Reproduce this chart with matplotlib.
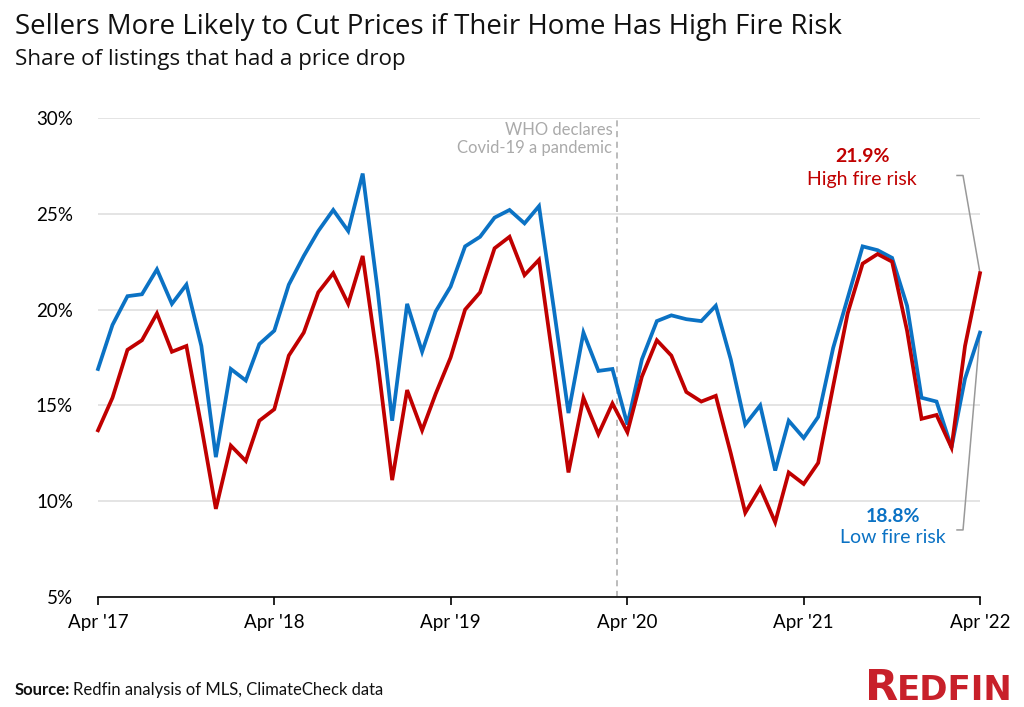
import pandas as pd
import matplotlib
matplotlib.use('Agg')
import matplotlib.pyplot as plt
import matplotlib.dates as mdates

plt.rcParams['font.family'] = ['Lato', 'DejaVu Sans']

# Share of listings with a price drop, monthly Apr 2017 - Apr 2022
months = pd.date_range('2017-04-01', '2022-04-01', freq='MS')
high_risk = [13.7, 15.4, 17.9, 18.4, 19.8, 17.8, 18.1, 13.9, 9.6, 12.9, 12.1, 14.2,
             14.8, 17.6, 18.8, 20.9, 21.9, 20.3, 22.8, 17.3, 11.1, 15.8, 13.7, 15.6,
             17.5, 20.0, 20.9, 23.2, 23.8, 21.8, 22.6, 17.0, 11.5, 15.4, 13.5, 15.1,
             13.6, 16.5, 18.4, 17.6, 15.7, 15.2, 15.5, 12.5, 9.4, 10.7, 8.9, 11.5,
             10.9, 12.0, 16.0, 19.8, 22.4, 22.9, 22.5, 18.9, 14.3, 14.5, 12.8, 18.1,
             21.9]
low_risk = [16.9, 19.2, 20.7, 20.8, 22.1, 20.3, 21.3, 18.1, 12.3, 16.9, 16.3, 18.2,
            18.9, 21.3, 22.8, 24.1, 25.2, 24.1, 27.1, 21.0, 14.2, 20.3, 17.8, 19.9,
            21.2, 23.3, 23.8, 24.8, 25.2, 24.5, 25.4, 20.0, 14.6, 18.8, 16.8, 16.9,
            14.0, 17.4, 19.4, 19.7, 19.5, 19.4, 20.2, 17.4, 14.0, 15.0, 11.6, 14.2,
            13.3, 14.4, 18.0, 20.6, 23.3, 23.1, 22.7, 20.2, 15.4, 15.2, 12.8, 16.4,
            18.8]
tick_dates = pd.date_range('2017-04-01', '2022-04-01', freq='12MS')
tick_labels = ["Apr '17", "Apr '18", "Apr '19", "Apr '20", "Apr '21", "Apr '22"]
y_ticks = [5, 10, 15, 20, 25, 30]
pandemic_date = pd.Timestamp('2020-03-11')

red = '#c00000'
blue = '#0b72c4'
gray = '#999999'

fig = plt.figure(figsize=(10.24, 7.07), dpi=100)
ax = fig.add_axes([98 / 1024, 1 - 597 / 707, 882 / 1024, 479 / 707])

ax.set_ylim(5, 30)
ax.set_xlim(months[0], months[-1])
ax.set_yticks(y_ticks)
ax.set_yticklabels([f'{v}%' for v in y_ticks])
ax.set_xticks(tick_dates)
ax.set_xticklabels(tick_labels)
ax.grid(axis='y', color='#dcdcdc', lw=1.1, zorder=0)
for s in ['top', 'right', 'left']:
    ax.spines[s].set_visible(False)
ax.spines['bottom'].set_color('black')
ax.spines['bottom'].set_linewidth(1.2)
ax.tick_params(axis='y', length=0, pad=18, labelsize=13.5)
ax.tick_params(axis='x', length=6, width=1.2, pad=6, labelsize=13.5)

# pandemic marker
ax.axvline(pandemic_date, color='#aaaaaa', lw=1.1, ls=(0, (4, 3)), zorder=1)
ax.text(pandemic_date - pd.Timedelta(days=10), 28.9, 'WHO declares\nCovid-19 a pandemic',
        ha='right', va='center', fontsize=12, color='#aaaaaa', linespacing=1.2)

ax.plot(months, low_risk, color=blue, lw=2.7, clip_on=False, zorder=3,
        solid_joinstyle='miter')
ax.plot(months, high_risk, color=red, lw=2.7, clip_on=False, zorder=4,
        solid_joinstyle='miter')

# end labels with brackets
end = months[-1]
x_end = mdates.date2num(end)
px = 30.4 / 14.7  # days per pixel
x_kink = x_end - 17 * px
x_tip = x_end - 23 * px
ax.plot([x_end, x_kink, x_tip], [high_risk[-1], 27.0, 27.0], color=gray, lw=1.1,
        clip_on=False, zorder=2)
ax.plot([x_end, x_kink, x_tip], [low_risk[-1], 8.5, 8.5], color=gray, lw=1.1,
        clip_on=False, zorder=2)

ax.text(x_end - 118 * px, 28.0, f'{high_risk[-1]:.1f}%', ha='center', va='center',
        fontsize=14, fontweight='bold', color=red)
ax.text(x_end - 118 * px, 26.8, 'High fire risk', ha='center', va='center',
        fontsize=14, color=red)
ax.text(x_end - 87 * px, 9.2, f'{low_risk[-1]:.1f}%', ha='center', va='center',
        fontsize=14, fontweight='bold', color=blue)
ax.text(x_end - 87 * px, 8.1, 'Low fire risk', ha='center', va='center',
        fontsize=14, color=blue)

# titles
fig.text(15 / 1024, 1 - 27 / 707, 'Sellers More Likely to Cut Prices if Their Home Has High Fire Risk',
         ha='left', va='center', fontsize=19.9, color='#111111', family='Open Sans')
fig.text(15 / 1024, 1 - 59 / 707, 'Share of listings that had a price drop',
         ha='left', va='center', fontsize=16.1, color='#111111', family='Open Sans')

# source line
src = fig.text(15 / 1024, 1 - 690 / 707, 'Source:', ha='left', va='center',
               fontsize=12, fontweight='bold', color='#111111')
fig.canvas.draw()
bb = src.get_window_extent()
fig.text((bb.x1 + 3) / 1024, 1 - 690 / 707, 'Redfin analysis of MLS, ClimateCheck data',
         ha='left', va='center', fontsize=12, color='#111111')

# logo
logo_red = '#c8202a'
r = fig.text(865 / 1024, 1 - 700 / 707, 'R', ha='left', va='baseline',
             fontsize=31, fontweight='bold', color=logo_red, family='DejaVu Sans')
fig.canvas.draw()
rb = r.get_window_extent()
fig.text((rb.x1 - 1) / 1024, 1 - 700 / 707, 'EDFIN', ha='left', va='baseline',
         fontsize=24.5, fontweight='bold', color=logo_red, family='DejaVu Sans')

fig.savefig('out.png', dpi=100, facecolor='white')
